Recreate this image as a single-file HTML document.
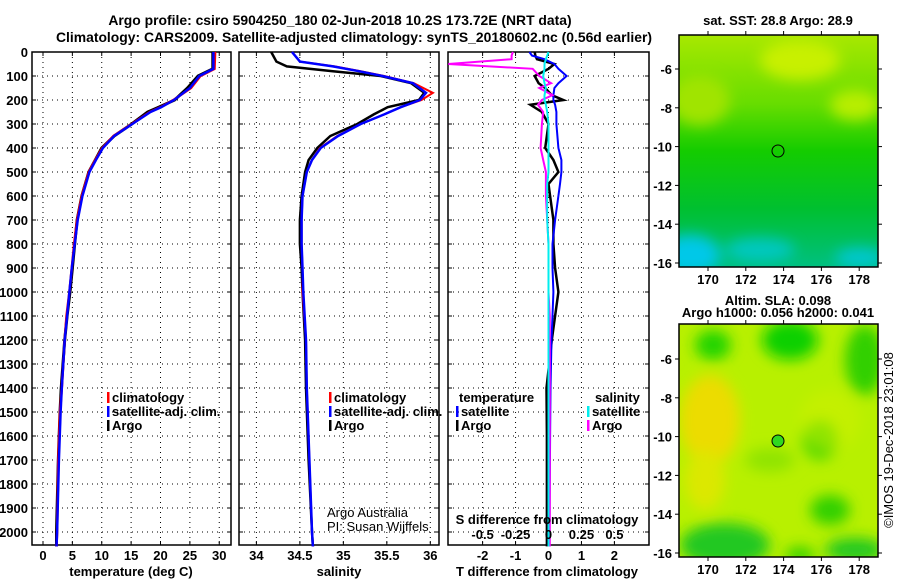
<!DOCTYPE html>
<html><head><meta charset="utf-8">
<style>
html,body{margin:0;padding:0;background:#fff;}
body{width:900px;height:580px;overflow:hidden;font-family:"Liberation Sans",sans-serif;}
svg text{font-family:"Liberation Sans",sans-serif;font-weight:bold;font-size:13px;fill:#000;}
</style></head>
<body>
<svg id="chart" width="900" height="580" viewBox="0 0 900 580" xmlns="http://www.w3.org/2000/svg">
<defs>
<linearGradient id="sstg" x1="0" y1="0" x2="0" y2="1">
<stop offset="0" stop-color="#a8e800"/><stop offset="0.3" stop-color="#66dd00"/><stop offset="0.5" stop-color="#14cc00"/><stop offset="0.75" stop-color="#00c030"/><stop offset="1" stop-color="#00c080"/>
</linearGradient>
<filter id="blur"><feGaussianBlur stdDeviation="7"/></filter>
<clipPath id="clipTop"><rect x="679" y="35" width="199" height="232"/></clipPath>
<clipPath id="clipBot"><rect x="679" y="324" width="199" height="233"/></clipPath>
</defs>
<g id="titles">
<text x="340" y="25" text-anchor="middle" style="font-size:13.9px">Argo profile: csiro 5904250_180 02-Jun-2018 10.2S 173.72E (NRT data)</text>
<text x="354" y="42" text-anchor="middle" style="font-size:13.9px">Climatology: CARS2009. Satellite-adjusted climatology: synTS_20180602.nc (0.56d earlier)</text>
</g>
<g id="plots"></g>
<g id="maps">
<text x="778" y="25" text-anchor="middle">sat. SST: 28.8 Argo: 28.9</text>
<g clip-path="url(#clipTop)">
<rect x="679" y="35" width="199" height="232" fill="url(#sstg)"/>
<g filter="url(#blur)">
<ellipse cx="800" cy="60" rx="40" ry="20" fill="#c8f000"/>
<ellipse cx="700" cy="100" rx="30" ry="25" fill="#a0e400"/>
<ellipse cx="855" cy="105" rx="25" ry="15" fill="#b8ee00"/>
<ellipse cx="690" cy="255" rx="30" ry="20" fill="#00c8e8"/>
<ellipse cx="760" cy="250" rx="35" ry="12" fill="#00c8c0"/>
<ellipse cx="860" cy="258" rx="25" ry="10" fill="#00c8d0"/>
</g>
</g>
<rect x="679" y="35" width="199" height="232" fill="none" stroke="#000" stroke-width="1.5"/>
<circle cx="778" cy="151" r="6" fill="none" stroke="#000"/>
<text x="778" y="305" text-anchor="middle">Altim. SLA: 0.098</text>
<text x="778" y="317" text-anchor="middle">Argo h1000: 0.056 h2000: 0.041</text>
<g clip-path="url(#clipBot)">
<rect x="679" y="324" width="199" height="233" fill="#b8f000"/>
<g filter="url(#blur)">
<ellipse cx="710" cy="420" rx="30" ry="45" fill="#ecdc00"/>
<ellipse cx="705" cy="480" rx="20" ry="30" fill="#dce800"/>
<ellipse cx="713" cy="345" rx="18" ry="15" fill="#22d400"/>
<ellipse cx="790" cy="340" rx="28" ry="20" fill="#10d000"/>
<ellipse cx="865" cy="360" rx="20" ry="35" fill="#30d000"/>
<ellipse cx="820" cy="440" rx="18" ry="20" fill="#50d800"/>
<ellipse cx="770" cy="460" rx="25" ry="12" fill="#90e400"/>
<ellipse cx="725" cy="545" rx="45" ry="22" fill="#20c820"/>
<ellipse cx="830" cy="510" rx="20" ry="15" fill="#30d000"/>
<ellipse cx="855" cy="550" rx="30" ry="12" fill="#20c820"/>
<ellipse cx="800" cy="555" rx="15" ry="8" fill="#30d000"/>
<ellipse cx="830" cy="420" rx="30" ry="30" fill="#d0f000" opacity="0.5"/>
</g>
</g>
<rect x="679" y="324" width="199" height="233" fill="none" stroke="#000" stroke-width="1.5"/>
<circle cx="778" cy="441" r="6" fill="#30d820" stroke="#000"/>
<text transform="translate(893,440) rotate(-90)" text-anchor="middle" style="font-weight:normal">©IMOS 19-Dec-2018 23:01:08</text>
</g>
</svg>
<script>
// ---- data ----
const depthTicks = [0,100,200,300,400,500,600,700,800,900,1000,1100,1200,1300,1400,1500,1600,1700,1800,1900,2000];
const tempTicks = [0,5,10,15,20,25,30];
const salTicks = [34,34.5,35,35.5,36];
const tdiffTicks = [-2,-1,0,1,2];
const sdiffTicks = [-0.5,-0.25,0,0.25,0.5];
const tempDepths = [0,70,100,150,200,230,250,300,350,400,450,500,600,700,800,900,1000,1100,1200,1400,1500,1700,2000,2060];
const tempClim = [29.3,29.2,26.8,25.2,22.2,20.0,18.2,15.1,12.0,10.1,8.9,7.8,6.6,5.8,5.3,4.9,4.5,4.0,3.7,3.2,2.9,2.6,2.4,2.3];
const tempSat = [29.0,29.0,26.6,25.0,22.3,20.1,18.3,15.2,12.1,10.2,9.0,7.9,6.7,5.9,5.4,4.9,4.5,4.1,3.7,3.2,3.0,2.7,2.4,2.3];
const tempArgo = [28.9,28.9,26.4,24.6,22.4,19.7,17.8,15.1,12.1,10.0,8.9,7.8,6.6,5.8,5.4,5.0,4.6,4.1,3.7,3.1,2.9,2.6,2.3,2.3];
const salDepths = [0,40,60,80,100,130,170,200,230,260,300,350,400,450,500,600,700,800,900,1000,1200,1400,1700,2000,2060];
const salClim = [34.41,34.5,34.9,35.2,35.47,35.81,36.03,35.9,35.66,35.47,35.2,34.93,34.73,34.64,34.58,34.53,34.52,34.52,34.53,34.53,34.57,34.58,34.61,34.64,34.65];
const salSat = [34.41,34.5,34.88,35.18,35.45,35.8,35.95,35.88,35.66,35.47,35.2,34.94,34.74,34.64,34.58,34.53,34.52,34.52,34.53,34.54,34.57,34.58,34.61,34.64,34.65];
const salArgo = [34.17,34.23,34.35,34.88,35.43,35.78,35.93,35.87,35.51,35.35,35.16,34.85,34.70,34.6,34.56,34.52,34.5,34.5,34.52,34.53,34.56,34.57,34.6,34.64,34.65];
const diffDepths = [0,15,30,50,70,100,130,150,180,200,220,250,300,400,450,500,550,600,700,800,900,1000,1100,1200,1400,1600,1800,2000,2060];
const tdiffSat = [-0.58,-0.5,-0.12,0.18,0.3,0.55,0.3,0.18,0.15,0.15,0.2,0.24,0.24,0.3,0.39,0.39,0.35,0.3,0.2,0.12,0.12,0.15,0.12,0.09,0.06,0.05,0.04,0.03,0.03];
const tdiffArgo = [-0.42,-0.4,-0.35,0.18,0.0,-0.42,-0.3,-0.1,0.1,0.45,-0.55,-0.2,0.0,-0.1,0.15,0.3,0.0,0.05,0.15,0.15,0.2,0.3,0.2,0.1,-0.06,-0.05,-0.05,-0.05,-0.05];
const sdiffSat = [0.0,-0.01,-0.02,-0.03,-0.03,-0.04,-0.03,-0.02,-0.03,-0.03,-0.02,-0.01,0.0,0.0,0.0,0.0,-0.01,-0.01,-0.01,0.0,0.0,0.0,0.0,0.0,0.0,0.0,0.0,0.0,0.0];
const sdiffArgo = [-0.27,-0.28,-0.28,-0.76,-0.12,-0.07,0.02,-0.07,0.03,-0.05,-0.08,-0.04,-0.05,-0.06,-0.04,-0.02,-0.02,-0.02,-0.01,0.0,0.0,0.0,0.01,0.01,0.01,0.01,0.01,0.01,0.01];
// ---- layout ----
const NS='http://www.w3.org/2000/svg';
const g=document.getElementById('plots');
const yTop=52, yBot=545;
function yScale(d){return yTop+d*0.24;}
const P1={x0:32,x1:231,v0:-1.87,v1:32.0};
const P2={x0:239,x1:439,v0:33.8,v1:36.1};
const P3={x0:448,x1:649,v0:-3.05,v1:3.05};
function xs(p,v){return p.x0+(v-p.v0)/(p.v1-p.v0)*(p.x1-p.x0);}
function xsS(v){return xs(P3,v*4);}
function el(tag,attrs,parent){const e=document.createElementNS(NS,tag);for(const k in attrs)e.setAttribute(k,attrs[k]);(parent||g).appendChild(e);return e;}
function txt(s,x,y,anchor,extra){const t=el('text',Object.assign({x:x,y:y,'text-anchor':anchor||'start'},extra||{}));t.textContent=s;return t;}
function frame(p,name,ticks,fmt,grid){
  const grp=el('g',{});
  
  
  depthTicks.forEach(d=>{const y=yScale(d);
    el('line',{x1:p.x0,x2:p.x1,y1:y,y2:y,stroke:'#000','stroke-width':1,'stroke-dasharray':'1,4'},grp);
    el('line',{x1:p.x0,x2:p.x0+4,y1:y,y2:y,stroke:'#000'},grp);
    el('line',{x1:p.x1-4,x2:p.x1,y1:y,y2:y,stroke:'#000'},grp);});
  ticks.forEach(v=>{const x=xs(p,v);
    el('line',{x1:x,x2:x,y1:yTop,y2:yBot,stroke:'#000','stroke-dasharray':'1,4'},grp);
    el('line',{x1:x,x2:x,y1:yBot-4,y2:yBot,stroke:'#000'},grp);
    el('line',{x1:x,x2:x,y1:yTop,y2:yTop+4,stroke:'#000'},grp);
    const t=txt(fmt(v),x,560,'middle');
    
    
  });
  el('rect',{x:p.x0,y:yTop,width:p.x1-p.x0,height:yBot-yTop,fill:'none',stroke:'#000','stroke-width':1.5},grp);
  return grp;
}
function line(p,vals,depths,color,name,w,xf){
  const pts=vals.map((v,i)=>(xf?xf(v):xs(p,v)).toFixed(1)+','+yScale(depths[i]).toFixed(1)).join(' ');
  const pl=el('polyline',{points:pts,fill:'none',stroke:color,'stroke-width':w||2.5});
  
  
}
frame(P1,'temperature-panel',tempTicks,v=>String(v));
frame(P2,'salinity-panel',salTicks,v=>String(v));
frame(P3,'difference-panel',tdiffTicks,v=>String(v));
depthTicks.forEach(d=>{const t=txt(String(d),28,yScale(d)+5,'end');
  
  });
line(P1,tempArgo,tempDepths,'#000','temp-argo-line',3);
line(P1,tempClim,tempDepths,'#f00','temp-climatology-line',2.5);
line(P1,tempSat,tempDepths,'#00f','temp-satellite-line',2.5);
line(P2,salArgo,salDepths,'#000','sal-argo-line',2.5);
line(P2,salClim,salDepths,'#f00','sal-climatology-line',2);
line(P2,salSat,salDepths,'#00f','sal-satellite-line',2.5);
line(P3,tdiffArgo,diffDepths,'#000','tdiff-argo-line',2.5);
line(P3,tdiffSat,diffDepths,'#00f','tdiff-satellite-line',2);
line(P3,sdiffArgo,diffDepths,'#f0f','sdiff-argo-line',2,xsS);
line(P3,sdiffSat,diffDepths,'#0ee','sdiff-satellite-line',2,xsS);
// axis titles
let t;
t=txt('temperature (deg C)',131,576,'middle');
t=txt('salinity',339,576,'middle');
t=txt('T difference from climatology',547,576,'middle');
t=txt('S difference from climatology',547,524,'middle');
sdiffTicks.forEach(v=>{const s=txt(String(v),xsS(v),539,'middle');
  
  });
// legends
function legend(x,y,items,name){
  const lg=el('g',{});
  
  
  items.forEach((it,i)=>{const yy=y+i*14;
    if(it[1]) el('rect',{x:x,y:yy-10,width:2.5,height:11,fill:it[1]},lg);
    const tt=el('text',{x:x+5,y:yy},lg);tt.textContent=it[0];});
}
legend(107,402,[['climatology','#f00'],['satellite-adj. clim.','#00f'],['Argo','#000']],'temp-legend');
legend(329,402,[['climatology','#f00'],['satellite-adj. clim.','#00f'],['Argo','#000']],'sal-legend');
legend(454,402,[['temperature',null]],'tdiff-legend-title');
legend(456,416,[['satellite','#00f'],['Argo','#000']],'tdiff-legend');
legend(590,402,[['salinity',null]],'sdiff-legend-title');
legend(587,416,[['satellite','#0ee'],['Argo','#f0f']],'sdiff-legend');
t=txt('Argo Australia',327,517,'start',{style:'font-weight:normal',fill:'#222'});
t=txt('PI: Susan Wijffels',327,531,'start',{style:'font-weight:normal',fill:'#222'});
// map axes
const mapsG=document.getElementById('maps');
const lonTicks=[170,172,174,176,178];
const latTicks=[-6,-8,-10,-12,-14,-16];
function mapAxes(y0,y1,latY6){
  lonTicks.forEach(l=>{const x=708+(l-170)*18.9;
    el('line',{x1:x,x2:x,y1:y0-4,y2:y0,stroke:'#000'},mapsG);
    el('line',{x1:x,x2:x,y1:y1,y2:y1+4,stroke:'#000'},mapsG);
    const tt=el('text',{x:x,y:y1+17,'text-anchor':'middle'},mapsG);tt.textContent=String(l);
    
    });
  latTicks.forEach(l=>{const y=latY6+(-6-l)*19.4;
    el('line',{x1:675,x2:679,y1:y,y2:y,stroke:'#000'},mapsG);
    el('line',{x1:878,x2:882,y1:y,y2:y,stroke:'#000'},mapsG);
    const tt=el('text',{x:672,y:y+5,'text-anchor':'end'},mapsG);tt.textContent=String(l);
    
    });
}
mapAxes(35,267,69);
mapAxes(324,557,359);
</script>
</body></html>
